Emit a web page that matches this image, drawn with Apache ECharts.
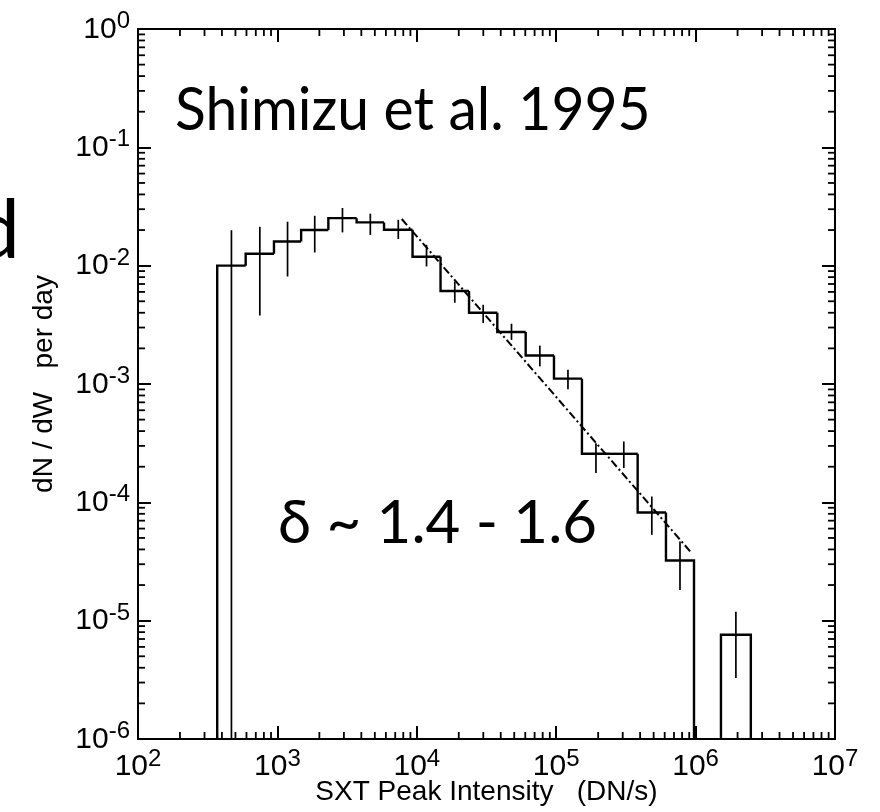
<!DOCTYPE html>
<html>
<head>
<meta charset="utf-8">
<script src="https://cdn.jsdelivr.net/npm/echarts@6/dist/echarts.min.js"></script>
<style>
  html, body { margin: 0; padding: 0; background: #fff; }
  #chart { width: 880px; height: 812px; }
</style>
</head>
<body>
<div id="chart"></div>
<script>
// Contiguous part of the flare peak-intensity distribution: bin edges in DN/s
const binEdges = [370, 592, 945, 1480, 2320, 3700, 5820, 9320, 14800, 23700,
                  37800, 60400, 96400, 153000, 243000, 384000, 613000, 974000];
// dN/dW per day in each bin
const binValues = [0.0100, 0.0126, 0.0160, 0.0200, 0.0252, 0.0232, 0.0201, 0.0119,
                   0.0061, 0.0040, 0.00275, 0.00174, 0.00111, 0.000257, 0.000257,
                   0.000082, 0.0000322];
// Error bar ends (0 = below the axis floor)
const errUpper = [0.0199, 0.0213, 0.0235, 0.0264, 0.0307, 0.0275, 0.0244, 0.0150,
                  0.00735, 0.00467, 0.00323, 0.00211, 0.00132, 0.000316, 0.000327,
                  0.000112, 0.0000466];
const errLower = [0, 0.00379, 0.0081, 0.01293, 0.0191, 0.0182, 0.0168, 0.00985,
                  0.00486, 0.00327, 0.00236, 0.00141, 0.000905, 0.000177, 0.000195,
                  0.0000531, 0.0000182];

// Isolated bin above 10^6 DN/s
const loneEdges = [1520000, 2490000];
const loneValue = 7.6e-6;
const loneUpper = 1.19e-5;
const loneLower = 3.28e-6;

// Power-law fit (dash-dot)
const fitX = [7800, 938000];
const fitY = [0.0248, 3.72e-5];

// Tick label exponents
const xTickExponents = ['2', '3', '4', '5', '6', '7'];
const yTickExponents = ['-6', '-5', '-4', '-3', '-2', '-1', '0'];

const X_MIN = 1e2, X_MAX = 1e7, Y_MIN = 1e-6, Y_MAX = 1;

// Histogram items: [lo, hi, value, upper, lower, previousValue, closeRight]
const histData = [];
for (let i = 0; i < binValues.length; i++) {
  histData.push([binEdges[i], binEdges[i + 1], binValues[i], errUpper[i], errLower[i],
                 i === 0 ? 0 : binValues[i - 1], i === binValues.length - 1 ? 1 : 0]);
}
histData.push([loneEdges[0], loneEdges[1], loneValue, loneUpper, loneLower, 0, 1]);

// Minor tick positions (2..9 of every decade)
const xMinor = [], yMinor = [];
for (let e = 2; e < 7; e++) for (let m = 2; m <= 9; m++) xMinor.push(m * Math.pow(10, e));
for (let e = -6; e < 0; e++) for (let m = 2; m <= 9; m++) yMinor.push(+(m * Math.pow(10, e)).toPrecision(3));

const AXIS_FONT = 'Liberation Sans';
const tickRich = {
  b: { fontFamily: AXIS_FONT, fontSize: 30, color: '#000', verticalAlign: 'bottom', padding: [0, 0, 4, 0] },
  s: { fontFamily: AXIS_FONT, fontSize: 24, color: '#000', verticalAlign: 'bottom', padding: [0, 0, 15, 0] }
};
const black = { color: '#000', width: 2 };

function renderHist(params, api) {
  const cs = params.coordSys;
  const bottom = cs.y + cs.height;
  const lo = api.value(0), hi = api.value(1), v = api.value(2);
  const up = api.value(3), dn = api.value(4), prev = api.value(5), close = api.value(6);
  const pL = api.coord([lo, v]);
  const pR = api.coord([hi, v]);
  const startY = prev > 0 ? api.coord([lo, prev])[1] : bottom;
  const pts = [[pL[0], startY], pL, pR];
  if (close) pts.push([pR[0], bottom]);
  const xc = api.coord([Math.sqrt(lo * hi), v])[0];
  const yUp = api.coord([lo, up])[1];
  const yDn = dn > 0 ? Math.min(api.coord([lo, dn])[1], bottom) : bottom;
  return {
    type: 'group',
    children: [
      { type: 'polyline', shape: { points: pts }, style: { stroke: '#000', lineWidth: 2.4, fill: null } },
      { type: 'line', shape: { x1: xc, y1: yUp, x2: xc, y2: yDn }, style: { stroke: '#000', lineWidth: 1.7 } }
    ]
  };
}

function renderXMinor(params, api) {
  const cs = params.coordSys;
  const x = api.coord([api.value(0), Y_MIN])[0];
  const b = cs.y + cs.height, t = cs.y;
  return {
    type: 'group',
    children: [
      { type: 'line', shape: { x1: x, y1: b, x2: x, y2: b - 7 }, style: { stroke: '#000', lineWidth: 1.8 } },
      { type: 'line', shape: { x1: x, y1: t, x2: x, y2: t + 7 }, style: { stroke: '#000', lineWidth: 1.8 } }
    ]
  };
}

function renderYMinor(params, api) {
  const cs = params.coordSys;
  const y = api.coord([X_MIN, api.value(0)])[1];
  const l = cs.x, r = cs.x + cs.width;
  return {
    type: 'group',
    children: [
      { type: 'line', shape: { x1: l, y1: y, x2: l + 7, y2: y }, style: { stroke: '#000', lineWidth: 1.8 } },
      { type: 'line', shape: { x1: r, y1: y, x2: r - 7, y2: y }, style: { stroke: '#000', lineWidth: 1.8 } }
    ]
  };
}

const chart = echarts.init(document.getElementById('chart'), null, { renderer: 'canvas' });

const baseX = {
  type: 'log', logBase: 10, min: X_MIN, max: X_MAX,
  axisLine: { show: true, onZero: false, lineStyle: black },
  axisTick: { show: true, inside: true, length: 13, lineStyle: black },
  splitLine: { show: false }, minorTick: { show: false }
};
const baseY = {
  type: 'log', logBase: 10, min: Y_MIN, max: Y_MAX,
  axisLine: { show: true, onZero: false, lineStyle: black },
  axisTick: { show: true, inside: true, length: 13, lineStyle: black },
  splitLine: { show: false }, minorTick: { show: false }
};

chart.setOption({
  backgroundColor: '#fff',
  animation: false,
  grid: { left: 138, right: 45, top: 29, bottom: 73, containLabel: false, outerBoundsMode: 'none' },
  xAxis: [
    Object.assign({}, baseX, {
      position: 'bottom',
      axisLabel: {
        margin: 8, fontSize: 30, fontFamily: AXIS_FONT, color: '#000',
        formatter: v => '{b|10}{s|' + xTickExponents[Math.round(Math.log10(v)) - 2] + '}',
        rich: tickRich
      },
      name: 'SXT Peak Intensity   (DN/s)',
      nameLocation: 'middle',
      nameGap: 39,
      nameMoveOverlap: false,
      nameTextStyle: { fontFamily: AXIS_FONT, fontSize: 28, color: '#000' }
    }),
    Object.assign({}, baseX, { position: 'top', axisLabel: { show: false } })
  ],
  yAxis: [
    Object.assign({}, baseY, {
      position: 'left',
      axisLabel: {
        margin: 8, fontSize: 30, fontFamily: AXIS_FONT, color: '#000',
        formatter: v => '{b|10}{s|' + yTickExponents[Math.round(Math.log10(v)) + 6] + '}',
        rich: tickRich
      },
      name: 'dN / dW   per day',
      nameLocation: 'middle',
      nameGap: 80,
      nameMoveOverlap: false,
      nameTextStyle: { fontFamily: AXIS_FONT, fontSize: 28, color: '#000' }
    }),
    Object.assign({}, baseY, { position: 'right', axisLabel: { show: false } })
  ],
  series: [
    {
      type: 'custom', name: 'histogram', xAxisIndex: 0, yAxisIndex: 0,
      renderItem: renderHist, data: histData, clip: false,
      encode: { x: [0, 1], y: [2] }, silent: true
    },
    {
      type: 'line', name: 'fit', xAxisIndex: 0, yAxisIndex: 0,
      data: fitX.map((x, i) => [x, fitY[i]]),
      symbol: 'none', silent: true,
      lineStyle: { color: '#000', width: 2, type: [8, 3, 2, 3] }
    },
    {
      type: 'custom', name: 'xMinor', xAxisIndex: 0, yAxisIndex: 0,
      renderItem: renderXMinor, data: xMinor.map(v => [v]), clip: false,
      encode: { x: 0 }, silent: true
    },
    {
      type: 'custom', name: 'yMinor', xAxisIndex: 0, yAxisIndex: 0,
      renderItem: renderYMinor, data: yMinor.map(v => [v]), clip: false,
      encode: { y: 0 }, silent: true
    }
  ],
  graphic: [
    {
      type: 'text', x: 175, y: 111, scaleX: 0.95,
      style: { text: 'Shimizu et al. 1995', fontFamily: 'Lato', fontSize: 60, fill: '#000',
               align: 'left', verticalAlign: 'middle' }
    },
    {
      type: 'text', x: 278, y: 524,
      style: { text: 'δ ~ 1.4 - 1.6', fontFamily: 'Lato', fontSize: 60, fill: '#000',
               align: 'left', verticalAlign: 'middle' }
    },
    {
      type: 'text', x: 20, y: 232,
      style: { text: 'd', fontFamily: 'Lato', fontSize: 82, fill: '#000',
               align: 'right', verticalAlign: 'middle' }
    }
  ]
});
</script>
</body>
</html>
